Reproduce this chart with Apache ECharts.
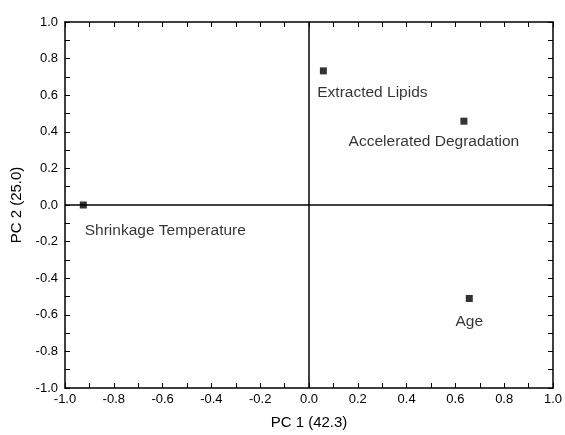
<!DOCTYPE html>
<html><head><meta charset="utf-8">
<script src="https://cdn.jsdelivr.net/npm/echarts@6/dist/echarts.min.js"></script>
<style>html,body{margin:0;padding:0;background:#fff}#c{width:565px;height:435px}</style>
</head><body><div id="c"></div>
<script>
const names = ["Extracted Lipids", "Accelerated Degradation", "Shrinkage Temperature", "Age"];
const pc1 = [0.059, 0.635, -0.925, 0.657];
const pc2 = [0.733, 0.458, 0.0, -0.511];
const xTitle = "PC 1 (42.3)";
const yTitle = "PC 2 (25.0)";

const labelOffsets = {
  "Extracted Lipids": [49, 22],
  "Accelerated Degradation": [-30, 21],
  "Shrinkage Temperature": [82, 26],
  "Age": [0, 23]
};

const FONT = "Liberation Sans, Arial, sans-serif";
const chart = echarts.init(document.getElementById('c'));
const tickCommon = {show: true, inside: true, length: 5, lineStyle: {color: '#000', width: 1}};
const minorCommon = {show: true, splitNumber: 2, length: 5, lineStyle: {color: '#000', width: 1}};
function axisBase(extra) {
  return Object.assign({
    type: 'value', min: -1, max: 1, interval: 0.2,
    axisLine: {show: true, onZero: false, lineStyle: {color: '#000', width: 1.5}},
    axisTick: tickCommon,
    minorTick: minorCommon,
    splitLine: {show: false}
  }, extra);
}
const data = names.map((n, i) => ({
  name: n, value: [pc1[i], pc2[i]],
  label: {offset: labelOffsets[n]}
}));
chart.setOption({
  animation: false,
  textStyle: {fontFamily: FONT},
  grid: {left: 65, top: 22, right: 9, bottom: 43},
  xAxis: [
    axisBase({position: 'bottom', name: xTitle, nameLocation: 'middle', nameGap: 27,
      nameTextStyle: {fontSize: 15, color: '#000', fontFamily: FONT},
      axisLabel: {color: '#000', fontSize: 13, margin: 5, fontFamily: FONT, formatter: v => v.toFixed(1)}}),
    axisBase({position: 'top', axisLabel: {show: false}})
  ],
  yAxis: [
    axisBase({position: 'left', name: yTitle, nameLocation: 'middle', nameGap: 38,
      nameTextStyle: {fontSize: 15, color: '#000', fontFamily: FONT},
      axisLabel: {color: '#000', fontSize: 13, margin: 7, fontFamily: FONT, formatter: v => v.toFixed(1)}}),
    axisBase({position: 'right', axisLabel: {show: false}})
  ],
  series: [{
    type: 'scatter',
    symbol: 'rect',
    symbolSize: 7,
    itemStyle: {color: '#000'},
    label: {show: true, position: 'inside', align: 'center', verticalAlign: 'middle',
      formatter: '{b}', color: '#000', fontSize: 15.5, fontFamily: FONT},
    data: data,
    markLine: {
      silent: true, symbol: 'none', label: {show: false},
      lineStyle: {color: '#000', width: 1.5, type: 'solid'},
      data: [{xAxis: 0}, {yAxis: 0}],
      z: 1
    },
    z: 3
  }]
});
</script></body></html>
